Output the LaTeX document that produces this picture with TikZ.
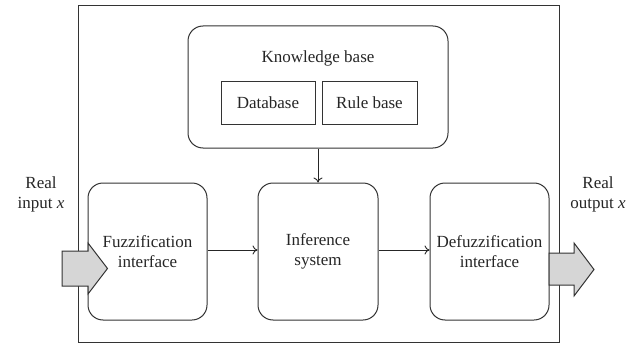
\documentclass[tikz,border=0pt]{standalone}
\usepackage{fontspec}
\setmainfont{Liberation Serif}
\usetikzlibrary{arrows.meta}
\begin{document}
\begin{tikzpicture}[x=1pt,y=-1pt,
  every node/.style={font=\fontsize{17}{20}\selectfont, text=black!85},
  outline/.style={draw=black!80, line width=1pt},
  roundbox/.style={outline, rounded corners=15pt, inner sep=0pt, align=center},
  plainbox/.style={outline, inner sep=0pt, align=center},
  bigarrow/.style={outline, fill=black!16, line join=miter},
  link/.style={draw=black!85, line width=0.9pt, -{To[length=5pt,width=9pt]}}]
\useasboundingbox (0,0) rectangle (640,345);
% outer frame
\node[plainbox, minimum width=481pt, minimum height=336pt] (frame) at (318.5,174) {};
% knowledge base
\node[roundbox, minimum width=260pt, minimum height=122pt] (kb) at (318,87) {};
\node (kbt) at (318,58) {Knowledge base};
\node[plainbox, minimum width=94pt, minimum height=42pt] (db) at (268,103) {Database};
\node[plainbox, minimum width=95pt, minimum height=42pt] (rb) at (369.5,103) {Rule base};
% main boxes
\node[roundbox, minimum width=119pt, minimum height=137pt] (fuzz) at (147.5,251.5) {Fuzzification\\interface};
\node[roundbox, minimum width=120pt, minimum height=137pt] (inf) at (318,251.5) {Inference\\system};
\node[roundbox, minimum width=119pt, minimum height=137pt] (defuzz) at (489.5,251.5) {Defuzzification\\interface};
% connectors
\draw[link] (kb.south -| inf.north) -- (inf.north);
\draw[link] (fuzz.east |- 0,250) -- (inf.west |- 0,250);
\draw[link] (inf.east |- 0,250) -- (defuzz.west |- 0,250);
% big arrows
\draw[bigarrow] (62,251) -- (88,251) -- (88,243) -- (107.5,268.5) -- (88,294) -- (88,286) -- (62,286) -- cycle;
\draw[bigarrow] (549,253) -- (574,253) -- (574,243) -- (594,269.5) -- (574,296) -- (574,285) -- (549,285) -- cycle;
% labels
\node[align=center] (inl) at (41,194) {Real\\input \textit{x}};
\node[align=center] (outl) at (598,194) {Real\\output \textit{x}};
\end{tikzpicture}
\end{document}
